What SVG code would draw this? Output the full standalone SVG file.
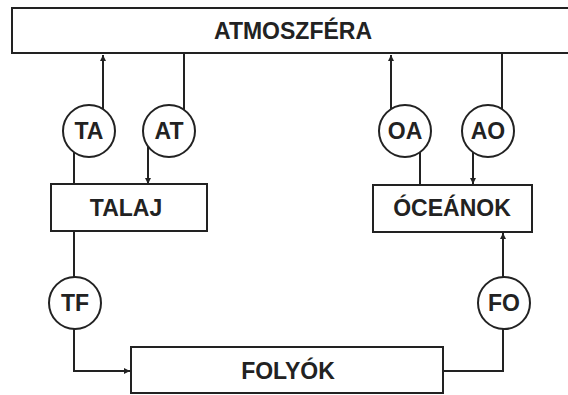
<svg xmlns="http://www.w3.org/2000/svg" width="568" height="395" viewBox="0 0 568 395">
<style>
.box{fill:#fff;stroke:#222;stroke-width:2}
.cir{fill:#fff;stroke:#222;stroke-width:2}
.ln{fill:none;stroke:#222;stroke-width:2}
.t{font-family:"Liberation Sans",Arial,sans-serif;font-weight:bold;font-size:23px;fill:#222;text-anchor:middle}
</style>
<defs>
<marker id="ah" viewBox="0 0 10 10" refX="10" refY="5" markerWidth="8" markerHeight="6" markerUnits="userSpaceOnUse" orient="auto">
<path d="M0,0 L10,5 L0,10 z" fill="#222"/>
</marker>
</defs>
<rect width="568" height="395" fill="#fff"/>
<g id="connectors">
<path class="ln" d="M103,131 V55" marker-end="url(#ah)"/>
<path class="ln" d="M74,131 V185"/>
<path class="ln" d="M184,54 V131"/>
<path class="ln" d="M148,131 V184" marker-end="url(#ah)"/>
<path class="ln" d="M391,131 V55" marker-end="url(#ah)"/>
<path class="ln" d="M420,131 V185"/>
<path class="ln" d="M502,54 V131"/>
<path class="ln" d="M473,131 V184" marker-end="url(#ah)"/>
<path class="ln" d="M74,231 V371 H130" marker-end="url(#ah)"/>
<path class="ln" d="M443,371 H503 V233" marker-end="url(#ah)"/>
</g>
<g id="atmoszfera">
<rect class="box" x="12" y="8" width="570" height="45"/>
<text class="t" x="293" y="39">ATMOSZFÉRA</text>
</g>
<g id="talaj">
<rect class="box" x="51" y="184" width="156" height="47"/>
<text class="t" x="126" y="216">TALAJ</text>
</g>
<g id="oceanok">
<rect class="box" x="373" y="185" width="159" height="47"/>
<text class="t" x="452" y="216">ÓCEÁNOK</text>
</g>
<g id="folyok">
<rect class="box" x="131" y="347" width="312" height="46"/>
<text class="t" x="288" y="379">FOLYÓK</text>
</g>
<g id="TA"><circle class="cir" cx="89" cy="131" r="26"/><text class="t" x="89" y="139">TA</text></g>
<g id="AT"><circle class="cir" cx="169" cy="131" r="26"/><text class="t" x="169" y="139">AT</text></g>
<g id="OA"><circle class="cir" cx="405" cy="131" r="26"/><text class="t" x="405" y="139">OA</text></g>
<g id="AO"><circle class="cir" cx="488" cy="131" r="26"/><text class="t" x="488" y="139">AO</text></g>
<g id="TF"><circle class="cir" cx="75" cy="303" r="26"/><text class="t" x="75" y="311">TF</text></g>
<g id="FO"><circle class="cir" cx="504" cy="303" r="26"/><text class="t" x="504" y="311">FO</text></g>
</svg>
